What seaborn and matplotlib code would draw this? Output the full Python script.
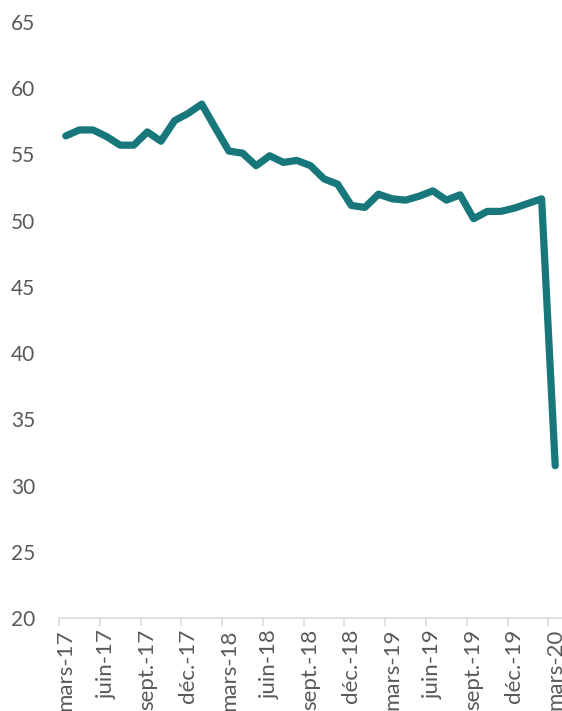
import matplotlib
matplotlib.use("Agg")
import matplotlib.pyplot as plt
import seaborn as sns
import pandas as pd
import numpy as np
from matplotlib.ticker import FixedLocator

months = ["mars-17","avr.-17","mai-17","juin-17","juil.-17","août-17","sept.-17","oct.-17","nov.-17","déc.-17",
          "janv.-18","févr.-18","mars-18","avr.-18","mai-18","juin-18","juil.-18","août-18","sept.-18","oct.-18",
          "nov.-18","déc.-18","janv.-19","févr.-19","mars-19","avr.-19","mai-19","juin-19","juil.-19","août-19",
          "sept.-19","oct.-19","nov.-19","déc.-19","janv.-20","févr.-20","mars-20"]
values = [56.4, 56.85, 56.85, 56.35, 55.7, 55.7, 56.7, 56.0, 57.55, 58.1,
          58.8, 57.0, 55.25, 55.1, 54.15, 54.9, 54.4, 54.55, 54.15, 53.15,
          52.75, 51.15, 51.0, 52.0, 51.65, 51.55, 51.85, 52.25, 51.55, 51.95,
          50.15, 50.7, 50.7, 50.95, 51.3, 51.65, 31.5]
y_ticks = [20, 25, 30, 35, 40, 45, 50, 55, 60, 65]

df = pd.DataFrame({"idx": np.arange(len(months)), "val": values})

sns.set_style("white")
plt.rcParams['font.family'] = ['Lato', 'DejaVu Sans']

fig = plt.figure(figsize=(5.62, 7.11), dpi=100)
ax = fig.add_axes([59/562, 1 - 618/711, 1 - 59/562, (618 - 22) / 711])
sns.lineplot(data=df, x="idx", y="val", ax=ax, color="#17777a", linewidth=5.2,
             solid_capstyle="round", solid_joinstyle="round", clip_on=False)

ax.set_xlim(-0.5, len(months) - 0.5)
ax.set_ylim(20, 65)
ax.set_yticks(y_ticks)
ax.set_yticklabels([str(v) for v in y_ticks])

label_pos = list(range(0, len(months), 3))
ax.set_xticks(label_pos)
ax.set_xticklabels([months[i] for i in label_pos], rotation=90, va="top", ha="center")
ax.xaxis.set_minor_locator(FixedLocator([i - 0.5 for i in label_pos]))

ax.tick_params(axis="x", which="major", length=0, pad=8, labelsize=16, labelcolor="#595959")
ax.tick_params(axis="x", which="minor", length=6, width=1.2, color="#d9d9d9", bottom=True)
ax.tick_params(axis="y", length=0, pad=17, labelsize=15, labelcolor="#595959")

ax.set_xlabel("")
ax.set_ylabel("")
for s in ["top", "right", "left"]:
    ax.spines[s].set_visible(False)
ax.spines["bottom"].set_color("#d9d9d9")
ax.spines["bottom"].set_linewidth(1.2)
ax.grid(False)

fig.savefig("out.png", dpi=100)
